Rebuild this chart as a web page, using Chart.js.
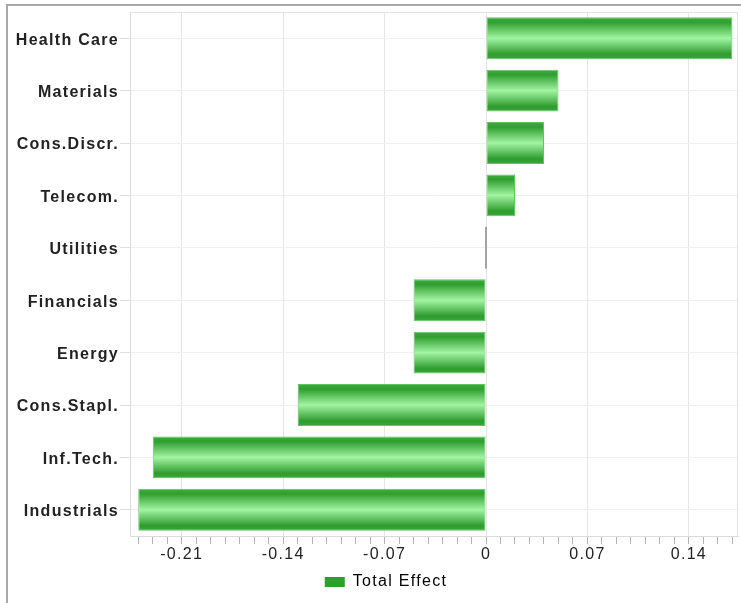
<!DOCTYPE html>
<html><head><meta charset="utf-8">
<script src="https://cdn.jsdelivr.net/npm/chart.js@4.4.0/dist/chart.umd.min.js"></script>
<style>
html,body{margin:0;padding:0;background:#fff;}
#wrap{position:relative;width:741px;height:603px;overflow:hidden;}
#frame{position:absolute;left:6px;top:4px;width:800px;height:700px;border-left:2px solid #a8a8a8;border-top:2px solid #a8a8a8;}
canvas{position:absolute;left:0;top:0;}
</style></head><body>
<div id="wrap"><div id="frame"></div><canvas id="c" width="741" height="603"></canvas></div>
<script>
const categories = ['Health Care','Materials','Cons.Discr.','Telecom.','Utilities','Financials','Energy','Cons.Stapl.','Inf.Tech.','Industrials'];
const totalEffect = [0.17, 0.05, 0.04, 0.02, 0, -0.05, -0.05, -0.13, -0.23, -0.24];
const seriesName = 'Total Effect';
const tickValues = [-0.24,-0.23,-0.22,-0.21,-0.20,-0.19,-0.18,-0.17,-0.16,-0.15,-0.14,-0.13,-0.12,-0.11,-0.10,-0.09,-0.08,-0.07,-0.06,-0.05,-0.04,-0.03,-0.02,-0.01,0,0.01,0.02,0.03,0.04,0.05,0.06,0.07,0.08,0.09,0.10,0.11,0.12,0.13,0.14,0.15,0.16,0.17];
const majorTicks = [-0.21,-0.14,-0.07,0,0.07,0.14];
const majorLabels = ['-0.21','-0.14','-0.07','0','0.07','0.14'];
const xMin = -0.2457, xMax = 0.1739;

function majorIndex(v){ return majorTicks.findIndex(m => Math.abs(m - v) < 1e-9); }

function barFill(ctx){
  const chart = ctx.chart;
  const ys = chart.scales && chart.scales.y;
  if (ctx.type === 'data' && totalEffect[ctx.dataIndex] === 0) return '#a4a4a4';
  if (ctx.type !== 'data' || !ys) return '#34a534';
  const c = ys.getPixelForValue(ctx.dataIndex);
  const h = ys.height / categories.length * 0.8;
  if (!isFinite(c) || !isFinite(h) || h <= 0) return '#34a534';
  const g = chart.ctx.createLinearGradient(0, c - h/2, 0, c + h/2);
  g.addColorStop(0, '#3fae3f');
  g.addColorStop(0.12, '#2f9f2f');
  g.addColorStop(0.5, '#a2f4a2');
  g.addColorStop(0.88, '#2e9c2e');
  g.addColorStop(1, '#3aa83a');
  return g;
}

const spacingPlugin = {
  id: 'spacing',
  beforeLayout(chart){ chart.ctx.letterSpacing = '1.3px'; },
  beforeDraw(chart){ chart.ctx.letterSpacing = '1.3px'; },
  afterLayout(chart){ if (chart.legend){ chart.legend.left += 14; chart.legend.right += 14; } },
  beforeDatasetsDraw(chart){
    const a = chart.chartArea, ctx = chart.ctx;
    ctx.save();
    ctx.strokeStyle = '#e2e2e2';
    ctx.lineWidth = 1;
    ctx.beginPath();
    ctx.moveTo(a.left, a.top + 0.5); ctx.lineTo(a.right, a.top + 0.5);
    ctx.moveTo(a.right - 0.5, a.top); ctx.lineTo(a.right - 0.5, a.bottom);
    ctx.stroke();
    ctx.restore();
  }
};

new Chart(document.getElementById('c'), {
  type: 'bar',
  data: {
    labels: categories,
    datasets: [{
      label: seriesName,
      data: totalEffect,
      backgroundColor: barFill,
      borderColor: '#62c262',
      borderWidth: (ctx) => (ctx.type === 'data' && totalEffect[ctx.dataIndex] === 0) ? 0 : 1,
      borderSkipped: false,
      barPercentage: 0.8,
      categoryPercentage: 1,
      minBarLength: 2
    }]
  },
  options: {
    indexAxis: 'y',
    responsive: false,
    animation: false,
    devicePixelRatio: 1,
    layout: { padding: { left: 6, top: 12, right: 3, bottom: 3 } },
    scales: {
      x: {
        type: 'linear',
        min: xMin, max: xMax,
        afterBuildTicks: (scale) => { scale.ticks = tickValues.map(v => ({ value: v })); },
        afterFit: (scale) => { scale.height = 28; },
        grid: {
          color: (c) => (c.tick && majorIndex(c.tick.value) >= 0) ? '#e6e6e6' : 'rgba(0,0,0,0)',
          tickColor: '#b4b4b4',
          tickLength: 8,
          lineWidth: 1
        },
        border: { color: '#dcdcdc' },
        ticks: {
          autoSkip: false,
          maxRotation: 0,
          padding: 1,
          color: '#222',
          font: { family: 'Liberation Sans, Arial, sans-serif', size: 16 },
          callback: (v) => { const i = majorIndex(v); return i >= 0 ? majorLabels[i] : ''; }
        }
      },
      y: {
        afterFit: (scale) => { scale.width = 124; },
        grid: { offset: false, color: '#efefef', tickColor: '#dedede', tickLength: 10 },
        border: { color: '#dcdcdc' },
        ticks: {
          padding: 1,
          labelOffset: 2,
          color: '#222',
          font: { family: 'Liberation Sans, Arial, sans-serif', size: 16, weight: 'bold' }
        }
      }
    },
    plugins: {
      tooltip: { enabled: false },
      legend: {
        position: 'bottom',
        labels: {
          boxWidth: 20,
          boxHeight: 10,
          padding: 10,
          color: '#333',
          font: { family: 'Liberation Sans, Arial, sans-serif', size: 16 },
          generateLabels: () => [{ text: seriesName, fillStyle: '#2e9e2e', strokeStyle: '#2e9e2e', lineWidth: 0, hidden: false, datasetIndex: 0 }]
        }
      }
    }
  },
  plugins: [spacingPlugin]
});
</script>
</body></html>
